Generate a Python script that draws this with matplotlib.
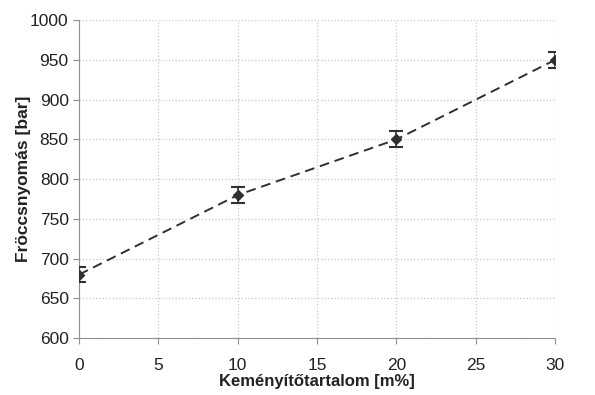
import matplotlib
matplotlib.use('Agg')
from matplotlib import pyplot as plt

# Data
hardener: [float] = [0, 10, 20, 30]
pressure: [float] = [680, 780, 850, 950]
pressure_err: [float] = [10, 10, 10, 10]

x_ticks: [int] = [0, 5, 10, 15, 20, 25, 30]
y_ticks: [int] = [600, 650, 700, 750, 800, 850, 900, 950, 1000]

plt.rcParams['font.family'] = ['Liberation Sans', 'DejaVu Sans']

fig = plt.figure(figsize=(5.95, 3.95), dpi=100)
ax = fig.add_axes([0.133, 0.144, 0.80, 0.805])

ax.errorbar(hardener, pressure, yerr=pressure_err, color='#303030',
            linestyle=(0, (5, 3)), linewidth=1.4, marker='D', markersize=5.5,
            capsize=5, elinewidth=1.2, capthick=1.5, zorder=3)

ax.set_xlim(0, 30)
ax.set_ylim(600, 1000)
ax.set_xticks(x_ticks)
ax.set_yticks(y_ticks)

ax.grid(True, color='#c8c8c8', linestyle=':', linewidth=0.9)
ax.set_axisbelow(True)

for side in ['top', 'right']:
    ax.spines[side].set_visible(False)
for side in ['left', 'bottom']:
    ax.spines[side].set_color('#909090')
    ax.spines[side].set_linestyle((0, (2, 1)))

ax.tick_params(axis='both', colors='#909090', labelcolor='#222222',
               labelsize=12.5, length=4)
ax.tick_params(axis='x', pad=10)

ax.set_xlabel('Keményítőtartalom [m%]', fontsize=12, fontweight='bold',
              color='#222222', labelpad=1)
ax.set_ylabel('Fröccsnyomás [bar]', fontsize=12.5, fontweight='bold',
              color='#222222', labelpad=-1)

plt.savefig('out.png', dpi=100)
